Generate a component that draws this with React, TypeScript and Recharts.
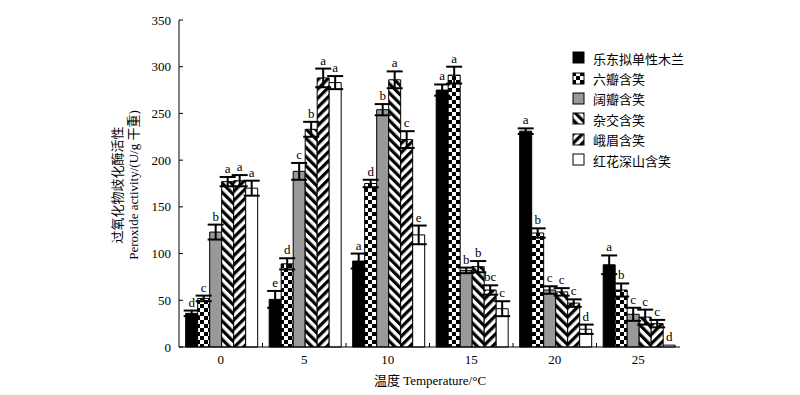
import React from "react";
import {
  BarChart,
  Bar,
  XAxis,
  YAxis,
  ErrorBar,
  LabelList,
  Label,
} from "recharts";

// 温度 (°C)
const temps = ["0", "5", "10", "15", "20", "25"];

const species = [
  "乐东拟单性木兰",
  "六瓣含笑",
  "阔瓣含笑",
  "杂交含笑",
  "峨眉含笑",
  "红花深山含笑",
];

// peroxide activity, U/g 干重
const ledong = [36, 51, 92, 275, 231, 88];
const liuban = [52, 89, 175, 291, 122, 61];
const kuoban = [123, 188, 254, 82, 61, 35];
const zajiao = [177, 233, 286, 86, 59, 32];
const emei = [178, 288, 222, 61, 47, 25];
const honghua = [170, 283, 120, 41, 19, 2];

// error (±)
const ledongErr = [3, 9, 8, 6, 3, 10];
const liubanErr = [3, 6, 4, 9, 5, 7];
const kuobanErr = [8, 9, 6, 3, 4, 7];
const zajiaoErr = [5, 8, 9, 6, 4, 8];
const emeiErr = [6, 10, 9, 5, 4, 4];
const honghuaErr = [8, 7, 10, 8, 5, 0];

// significance letters
const ledongSig = ["d", "e", "a", "a", "a", "a"];
const liubanSig = ["c", "d", "d", "a", "b", "b"];
const kuobanSig = ["b", "c", "b", "b", "c", "c"];
const zajiaoSig = ["a", "b", "a", "b", "c", "c"];
const emeiSig = ["a", "a", "c", "bc", "c", "c"];
const honghuaSig = ["a", "a", "e", "c", "d", "d"];

const values = [ledong, liuban, kuoban, zajiao, emei, honghua];
const errors = [ledongErr, liubanErr, kuobanErr, zajiaoErr, emeiErr, honghuaErr];
const sigs = [ledongSig, liubanSig, kuobanSig, zajiaoSig, emeiSig, honghuaSig];

const fills = [
  "#000",
  "url(#checker)",
  "#999",
  "url(#back)",
  "url(#fwd)",
  "#fff",
];

const data = temps.map((t, i) => {
  const row: Record<string, string | number> = { temp: t };
  values.forEach((v, s) => {
    row["v" + s] = v[i];
    row["e" + s] = errors[s][i];
    row["l" + s] = sigs[s][i];
  });
  return row;
});

const FONT = '"Liberation Serif", "Noto Sans CJK SC", serif';

const letterLabel = (s: number) => (props: any) => {
  const { x, y, width, height, index } = props;
  const v = values[s][index];
  const ppu = v > 0 ? Number(height) / v : 0;
  const top = Number(y) - errors[s][index] * ppu;
  return (
    <text
      x={Number(x) + Number(width) / 2}
      y={top - 4}
      textAnchor="middle"
      fontSize={13}
      fontFamily={FONT}
      fill="#000"
      stroke="none"
    >
      {sigs[s][index]}
    </text>
  );
};

const TempTick = (props: any) => {
  const { x, y, payload, index } = props;
  const half = payload && payload.offset ? payload.offset : 41.75;
  return (
    <g>
      {index > 0 && (
        <line x1={x - half} x2={x - half} y1={y} y2={y - 4} stroke="#000" strokeWidth={1} />
      )}
      <text x={x} y={y + 17} textAnchor="middle" fontSize={13} fontFamily={FONT} fill="#000">
        {payload.value}
      </text>
    </g>
  );
};

function SpeciesLegend() {
  return (
    <div
      style={{
        position: "absolute",
        left: 572,
        top: 48,
        fontFamily: FONT,
        fontSize: 13,
        color: "#000",
      }}
    >
      {species.map((name, s) => (
        <div key={name} style={{ display: "flex", alignItems: "center", height: 20.4 }}>
          <svg width={14} height={14} style={{ marginRight: 7 }}>
            <rect x={1} y={1} width={11} height={11} fill={fills[s]} stroke="#000" strokeWidth={1} />
          </svg>
          <span>{name}</span>
        </div>
      ))}
    </div>
  );
}

export default function App() {
  return (
    <div
      style={{
        position: "absolute",
        left: 0,
        top: 0,
        width: 800,
        height: 395,
        background: "#fff",
        fontFamily: FONT,
      }}
    >
      <svg width={0} height={0} style={{ position: "absolute" }}>
        <defs>
          <pattern id="checker" patternUnits="userSpaceOnUse" width={8} height={8}>
            <rect width={8} height={8} fill="#fff" />
            <rect x={0} y={0} width={4} height={4} fill="#000" />
            <rect x={4} y={4} width={4} height={4} fill="#000" />
          </pattern>
          <pattern
            id="back"
            patternUnits="userSpaceOnUse"
            width={6.5}
            height={6.5}
            patternTransform="rotate(-45)"
          >
            <rect width={6.5} height={6.5} fill="#fff" />
            <rect width={3.2} height={6.5} fill="#000" />
          </pattern>
          <pattern
            id="fwd"
            patternUnits="userSpaceOnUse"
            width={6.5}
            height={6.5}
            patternTransform="rotate(45)"
          >
            <rect width={6.5} height={6.5} fill="#fff" />
            <rect width={3.2} height={6.5} fill="#000" />
          </pattern>
        </defs>
      </svg>
      <BarChart
        width={800}
        height={395}
        data={data}
        margin={{ top: 20, right: 120, bottom: 0, left: 0 }}
        barCategoryGap="8%"
        barGap={0}
      >
        <XAxis
          dataKey="temp"
          height={48}
          stroke="#000"
          tickLine={false}
          tickSize={0}
          tickMargin={0}
          tick={<TempTick />}
          interval={0}
        >
          <Label
            content={() => (
              <text x={430} y={385} textAnchor="middle" fontSize={13} fontFamily={FONT} fill="#000">
                温度 Temperature/°C
              </text>
            )}
          />
        </XAxis>
        <YAxis
          width={179}
          domain={[0, 350]}
          ticks={[0, 50, 100, 150, 200, 250, 300, 350]}
          stroke="#000"
          tickSize={-4}
          tickMargin={12}
          tick={{ fill: "#000", fontSize: 13, fontFamily: FONT }}
        >
          <Label
            content={() => (
              <g>
                <text
                  transform="translate(122,185) rotate(-90)"
                  textAnchor="middle"
                  fontSize={13}
                  fontFamily={FONT}
                  fill="#000"
                >
                  过氧化物歧化酶活性
                </text>
                <text
                  transform="translate(138,185) rotate(-90)"
                  textAnchor="middle"
                  fontSize={13}
                  fontFamily={FONT}
                  fill="#000"
                >
                  Peroxide activity/(U/g 干重)
                </text>
              </g>
            )}
          />
        </YAxis>
        {species.map((name, s) => (
          <Bar
            key={name}
            name={name}
            dataKey={"v" + s}
            fill={fills[s]}
            stroke="#000"
            strokeWidth={1}
            isAnimationActive={false}
          >
            <ErrorBar dataKey={"e" + s} width={8} stroke="#000" strokeWidth={2} />
            <LabelList dataKey={"l" + s} content={letterLabel(s)} />
          </Bar>
        ))}
      </BarChart>
      <SpeciesLegend />
    </div>
  );
}
